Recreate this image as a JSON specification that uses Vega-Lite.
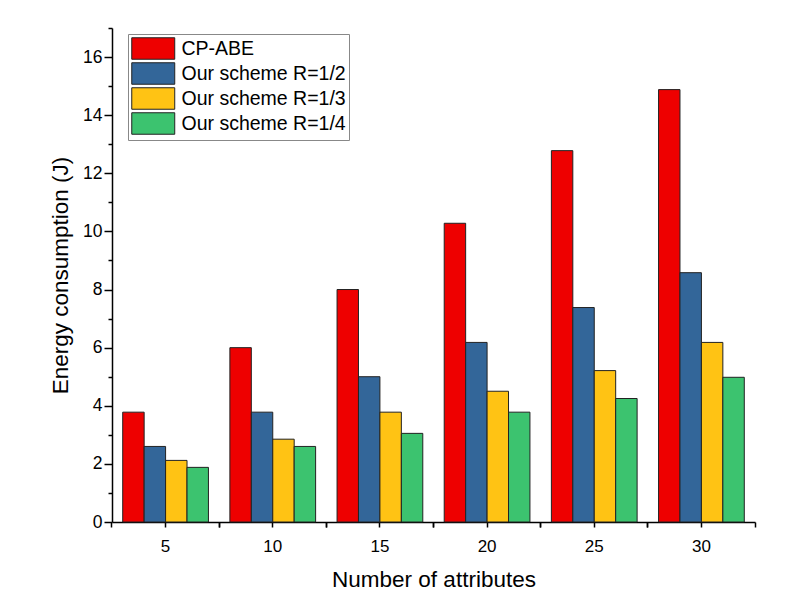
{
  "$schema": "https://vega.github.io/schema/vega-lite/v6.json",
  "width": 643,
  "height": 494,
  "autosize": {"type": "none"},
  "padding": {"left": 112, "top": 28, "right": 51, "bottom": 79},
  "background": "white",
  "config": {
    "font": "Liberation Sans",
    "view": {"stroke": null},
    "axis": {"domainColor": "#000", "domainWidth": 1.5, "tickColor": "#000", "tickWidth": 1.5, "labelColor": "#000", "titleColor": "#000", "grid": false, "titleFontWeight": "normal"}
  },
  "data": {
    "values": [
      {"n": 5, "scheme": "CP-ABE", "energy": 3.78},
      {"n": 10, "scheme": "CP-ABE", "energy": 6.0},
      {"n": 15, "scheme": "CP-ABE", "energy": 8.0},
      {"n": 20, "scheme": "CP-ABE", "energy": 10.28},
      {"n": 25, "scheme": "CP-ABE", "energy": 12.78},
      {"n": 30, "scheme": "CP-ABE", "energy": 14.88},
      {"n": 5, "scheme": "Our scheme R=1/2", "energy": 2.6},
      {"n": 10, "scheme": "Our scheme R=1/2", "energy": 3.78},
      {"n": 15, "scheme": "Our scheme R=1/2", "energy": 5.0},
      {"n": 20, "scheme": "Our scheme R=1/2", "energy": 6.18},
      {"n": 25, "scheme": "Our scheme R=1/2", "energy": 7.38},
      {"n": 30, "scheme": "Our scheme R=1/2", "energy": 8.58},
      {"n": 5, "scheme": "Our scheme R=1/3", "energy": 2.12},
      {"n": 10, "scheme": "Our scheme R=1/3", "energy": 2.85},
      {"n": 15, "scheme": "Our scheme R=1/3", "energy": 3.78},
      {"n": 20, "scheme": "Our scheme R=1/3", "energy": 4.5},
      {"n": 25, "scheme": "Our scheme R=1/3", "energy": 5.21},
      {"n": 30, "scheme": "Our scheme R=1/3", "energy": 6.18},
      {"n": 5, "scheme": "Our scheme R=1/4", "energy": 1.88},
      {"n": 10, "scheme": "Our scheme R=1/4", "energy": 2.6},
      {"n": 15, "scheme": "Our scheme R=1/4", "energy": 3.05},
      {"n": 20, "scheme": "Our scheme R=1/4", "energy": 3.78},
      {"n": 25, "scheme": "Our scheme R=1/4", "energy": 4.25},
      {"n": 30, "scheme": "Our scheme R=1/4", "energy": 4.98}
    ]
  },
  "resolve": {"axis": {"x": "independent"}},
  "layer": [
    {
      "mark": {"type": "bar", "stroke": "#222", "strokeWidth": 1},
      "encoding": {
        "x": {
          "field": "n", "type": "ordinal",
          "scale": {"paddingInner": 0.2, "paddingOuter": 0.1},
          "axis": {"title": "Number of attributes", "orient": "bottom", "labelAngle": 0, "tickSize": 5, "labelFontSize": 17, "labelBaseline": "alphabetic", "labelPadding": 24, "titleFontSize": 22.5, "titleBaseline": "alphabetic", "titleY": 64}
        },
        "xOffset": {"field": "scheme", "type": "nominal", "sort": ["CP-ABE", "Our scheme R=1/2", "Our scheme R=1/3", "Our scheme R=1/4"], "scale": {"paddingInner": 0, "paddingOuter": 0}},
        "y": {
          "field": "energy", "type": "quantitative",
          "scale": {"domain": [0, 17], "nice": false},
          "axis": {
            "title": "Energy consumption (J)",
            "values": [0, 1, 2, 3, 4, 5, 6, 7, 8, 9, 10, 11, 12, 13, 14, 15, 16, 17],
            "labelExpr": "datum.value % 2 === 0 ? datum.label : ''",
            "tickSize": {"condition": {"test": "datum.value % 2 === 0", "value": 8}, "value": 4},
            "labelFontSize": 17.5, "labelPadding": 2,
            "titleFontSize": 22.5, "titleBaseline": "alphabetic", "titleX": -45
          }
        },
        "color": {
          "field": "scheme", "type": "nominal",
          "scale": {"domain": ["CP-ABE", "Our scheme R=1/2", "Our scheme R=1/3", "Our scheme R=1/4"], "range": ["#ee0000", "#336699", "#ffc314", "#3cc36f"]},
          "legend": {
            "title": null, "orient": "none", "legendX": 16, "legendY": 6,
            "strokeColor": "#888", "fillColor": "white", "padding": 3,
            "symbolType": "M-2,-1H2V1H-2Z", "symbolSize": 462, "symbolOffset": 10.75,
            "symbolStrokeColor": "#222", "symbolStrokeWidth": 1, "symbolOpacity": 1,
            "labelFontSize": 19.5, "labelColor": "#000", "labelOffset": 16.75, "labelLimit": 400, "rowPadding": -2.8
          }
        }
      }
    },
    {
      "mark": {"type": "rule", "opacity": 0},
      "encoding": {
        "x": {"field": "n", "type": "ordinal", "axis": {"title": null, "orient": "bottom", "labels": false, "domain": false, "tickSize": 5, "bandPosition": -0.125}}
      }
    },
    {
      "mark": {"type": "rule", "opacity": 0},
      "encoding": {
        "x": {"field": "n", "type": "ordinal", "axis": {"title": null, "orient": "bottom", "labels": false, "domain": false, "tickSize": 5, "bandPosition": 1.125}}
      }
    }
  ]
}
